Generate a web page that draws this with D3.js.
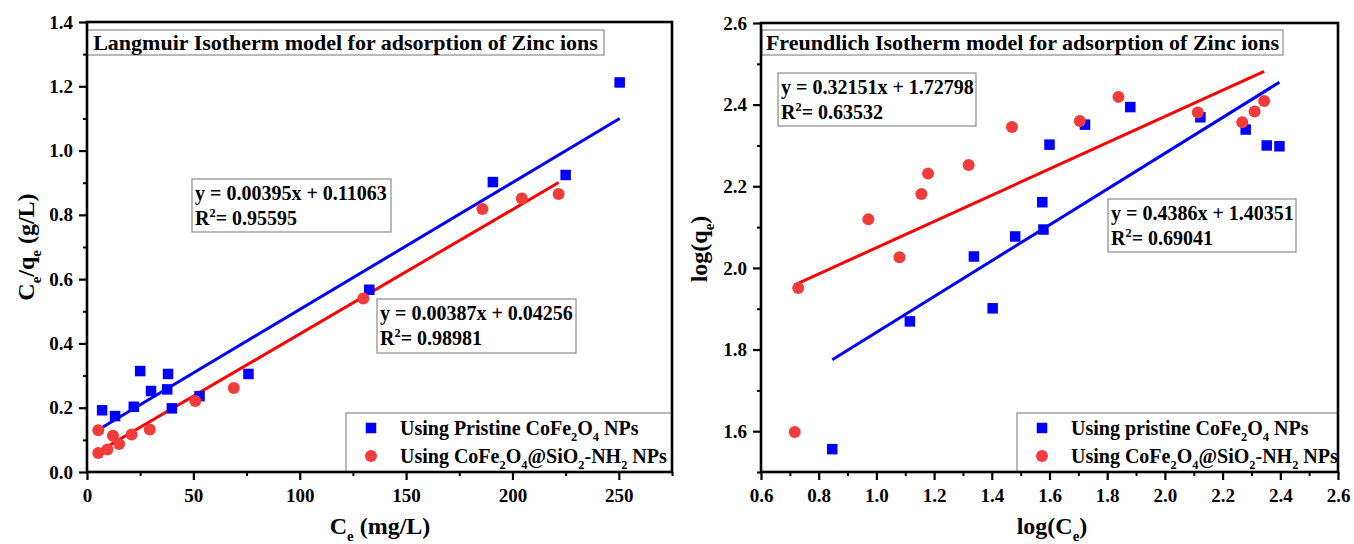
<!DOCTYPE html>
<html><head><meta charset="utf-8">
<script src="https://cdn.jsdelivr.net/npm/d3@7"></script>
<style>
html,body{margin:0;padding:0;background:#fff;}
svg{display:block;}
text{font-family:"Liberation Serif","Times New Roman",serif;font-weight:bold;fill:#000;}
</style></head>
<body><svg id="c" width="1354" height="544"></svg>
<script>
// ---------- Langmuir data ----------
const langPristineX = [7.1, 13.2, 22.0, 25.0, 30.1, 37.7, 38.1, 39.9, 52.9, 75.9, 132.7, 190.8, 225.0, 250.4];
const langPristineY = [0.192, 0.174, 0.203, 0.314, 0.252, 0.257, 0.305, 0.198, 0.236, 0.305, 0.567, 0.902, 0.924, 1.212];
const langCoatedX = [5.3, 5.3, 9.6, 12.2, 15.1, 21.0, 29.5, 50.9, 69.0, 129.9, 185.9, 204.4, 221.7];
const langCoatedY = [0.130, 0.059, 0.070, 0.113, 0.087, 0.117, 0.132, 0.221, 0.261, 0.540, 0.818, 0.851, 0.865];
const langFitSlope = [0.00395, 0.00387];
const langFitIntercept = [0.11063, 0.04256];
const langXTicks = [0, 50, 100, 150, 200, 250];
const langYTicks = [0.0, 0.2, 0.4, 0.6, 0.8, 1.0, 1.2, 1.4];
const langEq = ["y = 0.00395x + 0.11063", "0.95595", "y = 0.00387x + 0.04256", "0.98981"];

// ---------- Freundlich data ----------
const freuPristineX = [0.847, 1.116, 1.338, 1.403, 1.481, 1.575, 1.579, 1.600, 1.723, 1.880, 2.123, 2.280, 2.353, 2.397];
const freuPristineY = [1.556, 1.869, 2.028, 1.901, 2.077, 2.161, 2.094, 2.302, 2.351, 2.394, 2.369, 2.339, 2.300, 2.298];
const freuCoatedX = [0.717, 0.729, 0.972, 1.080, 1.156, 1.179, 1.320, 1.470, 1.705, 1.839, 2.114, 2.268, 2.311, 2.344];
const freuCoatedY = [1.598, 1.951, 2.119, 2.026, 2.181, 2.231, 2.252, 2.345, 2.360, 2.419, 2.381, 2.357, 2.383, 2.409];
const freuFitSlope = [0.4386, 0.32151];
const freuFitIntercept = [1.40351, 1.72798];
const freuXTicks = [0.6, 0.8, 1.0, 1.2, 1.4, 1.6, 1.8, 2.0, 2.2, 2.4, 2.6];
const freuYTicks = [1.6, 1.8, 2.0, 2.2, 2.4, 2.6];
const freuEq = ["y = 0.4386x + 1.40351", "0.69041", "y = 0.32151x + 1.72798", "0.63532"];

const BLUE = "#0000ff", RED_LINE = "#ff0000", RED_PT = "#f23c3c";
const svg = d3.select("#c");

function rich(sel, parts, size) {
  let shift = 0;
  parts.forEach(p => {
    const t = sel.append("tspan").text(p[0]);
    let target = 0;
    if (p[1] === "sub") target = size * 0.28;
    if (p[1] === "sup") target = -size * 0.38;
    if (target !== shift) { t.attr("dy", target - shift); shift = target; }
    if (p[1]) t.attr("font-size", size * 0.62);
  });
}

function panel(o) {
  const g = svg.append("g");
  const x = d3.scaleLinear().domain(o.xDom).range([o.x0, o.x1]);
  const y = d3.scaleLinear().domain(o.yDom).range([o.y1, o.y0]);

  // minor ticks
  g.append("g").attr("transform", `translate(0,${o.y1})`)
    .call(d3.axisBottom(x).tickValues(o.xMinor).tickSize(4).tickFormat("").tickSizeOuter(0))
    .call(s => s.select(".domain").remove())
    .selectAll("line").attr("stroke", "#000").attr("stroke-width", 2);
  g.append("g").attr("transform", `translate(${o.x0},0)`)
    .call(d3.axisLeft(y).tickValues(o.yMinor).tickSize(4).tickFormat("").tickSizeOuter(0))
    .call(s => s.select(".domain").remove())
    .selectAll("line").attr("stroke", "#000").attr("stroke-width", 2);
  // major axes
  const ax = g.append("g").attr("transform", `translate(0,${o.y1})`)
    .call(d3.axisBottom(x).tickValues(o.xTicks).tickSize(8).tickPadding(9).tickSizeOuter(0).tickFormat(o.xFmt));
  const ay = g.append("g").attr("transform", `translate(${o.x0},0)`)
    .call(d3.axisLeft(y).tickValues(o.yTicks).tickSize(8).tickPadding(6).tickSizeOuter(0).tickFormat(d3.format(".1f")));
  [ax, ay].forEach(a => {
    a.select(".domain").remove();
    a.selectAll("line").attr("stroke", "#000").attr("stroke-width", 2.2);
    a.selectAll("text").attr("font-size", 19).attr("font-family", "Liberation Serif").attr("font-weight", "bold").attr("fill", "#000");
  });

  // title box
  g.append("rect").attr("x", o.title.x).attr("y", o.title.y).attr("width", o.title.w).attr("height", o.title.h)
    .attr("fill", "#fff").attr("stroke", "#8a8a8a").attr("stroke-width", 1.2);
  g.append("text").attr("x", o.title.x + o.title.w / 2).attr("y", o.title.y + o.title.h - 5)
    .attr("text-anchor", "middle").attr("font-size", 22).text(o.title.text);

  // fit lines
  const fits = [
    {xs: o.pX, c: BLUE, k: 0},
    {xs: o.cX, c: RED_LINE, k: 1}
  ];
  const line = d3.line().x(d => x(d[0])).y(d => y(d[1]));
  fits.forEach(f => {
    const x0 = d3.min(f.xs), x1 = d3.max(f.xs);
    const pts = [x0, x1].map(v => [v, o.slope[f.k] * v + o.icpt[f.k]]);
    g.append("path").attr("d", line(pts)).attr("stroke", f.c).attr("stroke-width", 3).attr("fill", "none");
  });

  // points
  const sq = 10.5;
  g.append("g").selectAll("rect").data(d3.zip(o.pX, o.pY)).join("rect")
    .attr("x", d => x(d[0]) - sq / 2).attr("y", d => y(d[1]) - sq / 2)
    .attr("width", sq).attr("height", sq).attr("fill", BLUE);
  g.append("g").selectAll("circle").data(d3.zip(o.cX, o.cY)).join("circle")
    .attr("cx", d => x(d[0])).attr("cy", d => y(d[1])).attr("r", 6).attr("fill", RED_PT);

  // equation boxes
  o.eqBoxes.forEach(b => {
    g.append("rect").attr("x", b.x).attr("y", b.y).attr("width", b.w).attr("height", b.h)
      .attr("fill", "none").attr("stroke", "#8a8a8a").attr("stroke-width", 1.2);
    g.append("text").attr("x", b.x + 3).attr("y", b.y + 21).attr("font-size", 20).text(b.l1);
    const t = g.append("text").attr("x", b.x + 3).attr("y", b.y + 46).attr("font-size", 20);
    rich(t, [["R"], ["2", "sup"], ["= " + b.l2]], 20);
  });

  // legend
  const L = o.legend;
  g.append("rect").attr("x", L.x).attr("y", L.y).attr("width", o.x1 - L.x).attr("height", o.y1 - L.y)
    .attr("fill", "#fff").attr("stroke", "#8a8a8a").attr("stroke-width", 1.2);
  g.append("rect").attr("x", L.x + 25 - sq / 2).attr("y", L.y + 15 - sq / 2).attr("width", sq).attr("height", sq).attr("fill", BLUE);
  g.append("circle").attr("cx", L.x + 25).attr("cy", L.y + 43).attr("r", 6).attr("fill", RED_PT);
  const t1 = g.append("text").attr("x", L.x + 54).attr("y", L.y + 22).attr("font-size", 20);
  rich(t1, [[L.name1 + " CoFe"], ["2", "sub"], ["O"], ["4", "sub"], [" NPs"]], 20);
  const t2 = g.append("text").attr("x", L.x + 54).attr("y", L.y + 50).attr("font-size", 20);
  rich(t2, [["Using CoFe"], ["2", "sub"], ["O"], ["4", "sub"], ["@SiO"], ["2", "sub"], ["-NH"], ["2", "sub"], [" NPs"]], 20);

  // frame
  g.append("rect").attr("x", o.x0).attr("y", o.y0).attr("width", o.x1 - o.x0).attr("height", o.y1 - o.y0)
    .attr("fill", "none").attr("stroke", "#000").attr("stroke-width", 2.6);

  // axis titles
  const xt = g.append("text").attr("x", o.xTitle.x).attr("y", o.xTitle.y).attr("text-anchor", "middle").attr("font-size", 24);
  rich(xt, o.xTitle.parts, 24);
  const yt = g.append("text").attr("transform", `translate(${o.yTitle.x},${o.yTitle.y}) rotate(-90)`)
    .attr("text-anchor", "middle").attr("font-size", 24);
  rich(yt, o.yTitle.parts, 24);
}

panel({
  x0: 87, x1: 672, y0: 22, y1: 472,
  xDom: [0, 275], yDom: [0, 1.4],
  xTicks: langXTicks, yTicks: langYTicks,
  xMinor: [25, 75, 125, 175, 225, 275], yMinor: [0.1, 0.3, 0.5, 0.7, 0.9, 1.1, 1.3],
  xFmt: d3.format("d"),
  pX: langPristineX, pY: langPristineY, cX: langCoatedX, cY: langCoatedY,
  slope: langFitSlope, icpt: langFitIntercept,
  title: {x: 87, y: 30, w: 517, h: 25, text: "Langmuir Isotherm model for adsorption of Zinc ions"},
  eqBoxes: [
    {x: 192, y: 179, w: 199, h: 53, l1: langEq[0], l2: langEq[1]},
    {x: 377, y: 299, w: 199, h: 54, l1: langEq[2], l2: langEq[3]}
  ],
  legend: {x: 346, y: 413, name1: "Using Pristine"},
  xTitle: {x: 380, y: 534, parts: [["C"], ["e", "sub"], [" (mg/L)"]]},
  yTitle: {x: 34, y: 247, parts: [["C"], ["e", "sub"], ["/q"], ["e", "sub"], [" (g/L)"]]}
});

panel({
  x0: 761, x1: 1338, y0: 23, y1: 472,
  xDom: [0.6, 2.6], yDom: [1.5, 2.6],
  xTicks: freuXTicks, yTicks: freuYTicks,
  xMinor: [0.7, 0.9, 1.1, 1.3, 1.5, 1.7, 1.9, 2.1, 2.3, 2.5], yMinor: [1.5, 1.7, 1.9, 2.1, 2.3, 2.5],
  xFmt: d3.format(".1f"),
  pX: freuPristineX, pY: freuPristineY, cX: freuCoatedX, cY: freuCoatedY,
  slope: freuFitSlope, icpt: freuFitIntercept,
  title: {x: 762, y: 30, w: 521, h: 25, text: "Freundlich Isotherm model for adsorption of Zinc ions"},
  eqBoxes: [
    {x: 1108, y: 199, w: 188, h: 53, l1: freuEq[0], l2: freuEq[1]},
    {x: 778, y: 73, w: 198, h: 53, l1: freuEq[2], l2: freuEq[3]}
  ],
  legend: {x: 1017, y: 413, name1: "Using pristine"},
  xTitle: {x: 1052, y: 534, parts: [["log(C"], ["e", "sub"], [")"]]},
  yTitle: {x: 707, y: 249, parts: [["log(q"], ["e", "sub"], [")"]]}
});
</script></body></html>
